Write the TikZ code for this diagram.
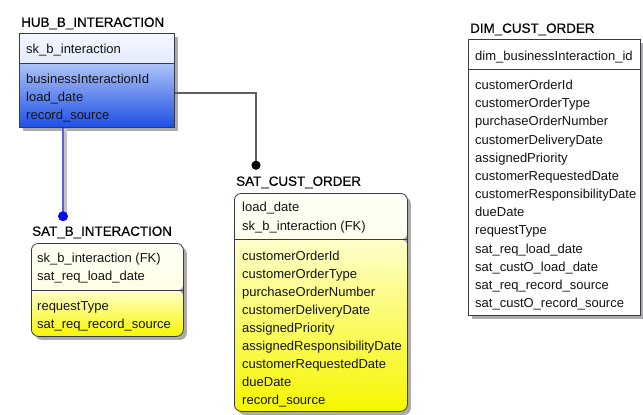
\documentclass[tikz,border=0pt]{standalone}
\usepackage{fontspec}
\setmainfont{Liberation Sans}
\newfontfamily\titlefont[FakeBold=0.6]{Liberation Sans}
\usetikzlibrary{shadows}

\definecolor{ink}{HTML}{141414}
\definecolor{edge}{HTML}{3A3A44}
\definecolor{shadowgray}{HTML}{ABABAB}
\definecolor{hubHeadTop}{HTML}{F4F7FF}
\definecolor{hubHeadBot}{HTML}{C2D2F6}
\definecolor{hubBodyTop}{HTML}{ADC3F7}
\definecolor{hubBodyBot}{HTML}{1E4FE4}
\definecolor{satHeadTop}{HTML}{FFFFF6}
\definecolor{satHeadBot}{HTML}{FFFFD6}
\definecolor{satBodyTop}{HTML}{FFFFCC}
\definecolor{satBodyBot}{HTML}{F6F600}
\definecolor{relgray}{HTML}{5E5E5E}
\definecolor{idline}{HTML}{5C5CE8}
\definecolor{iddot}{HTML}{0A0AFF}

% one line per field; #1 name prefix, #2 x, #3 centre of first line, #4 line step, #5 fields
\newcommand\fieldrows[5]{%
  \foreach \t [count=\i] in {#5}
    \node[field] (#1\i) at (#2,{#3+#4*(\i-1)+4.6}) {\t};}

\begin{document}
\begin{tikzpicture}[x=1pt,y=-1pt,
  tablebox/.style={draw=edge, line width=0.8pt, anchor=north west, inner sep=0pt,
    drop shadow={shadow xshift=3.5pt, shadow yshift=-3.5pt, fill=shadowgray, opacity=1}},
  twotone/.style n args={5}{path picture={
    \shade[top color=#2, bottom color=#3]
      (path picture bounding box.north west) rectangle ([yshift=-#1]path picture bounding box.north east);
    \shade[top color=#4, bottom color=#5]
      ([yshift=-#1]path picture bounding box.north west) rectangle (path picture bounding box.south east);}},
  divider/.style={draw=edge, line width=0.8pt},
  field/.style={anchor=base west, inner sep=0pt, text=ink, font=\fontsize{13}{15}\selectfont},
  tabletitle/.style={anchor=base west, inner sep=0pt, text=black, font=\titlefont\fontsize{13.4}{16}\selectfont},
  relation/.style={draw=relgray, line width=1.3pt},
  identifying/.style={draw=idline, line width=2pt},
]
\fill[white] (0,0) rectangle (643,415);
\useasboundingbox (0,0) rectangle (643,415);

% ---- HUB_B_INTERACTION ----
\node[tabletitle] (hubtitle) at (21,26.8) {HUB\_B\_INTERACTION};
\node[tablebox, minimum width=155pt, minimum height=94pt,
      twotone={30pt}{hubHeadTop}{hubHeadBot}{hubBodyTop}{hubBodyBot}] (hub) at (19,33) {};
\draw[divider] ([yshift=-30pt]hub.north west) -- ([yshift=-30pt]hub.north east);
\fieldrows{hubk}{26}{49}{18.3}{sk\_b\_interaction}
\fieldrows{hubf}{26}{78.5}{18.3}{businessInteractionId,load\_date,record\_source}

% ---- SAT_B_INTERACTION ----
\node[tabletitle] (sbititle) at (32,235.8) {SAT\_B\_INTERACTION};
\node[tablebox, rounded corners=7pt, minimum width=152pt, minimum height=93pt,
      twotone={47pt}{satHeadTop}{satHeadBot}{satBodyTop}{satBodyBot}] (sbi) at (31,243) {};
\draw[divider] ([yshift=-47pt]sbi.north west) -- ([yshift=-47pt]sbi.north east);
\fieldrows{sbik}{37}{258}{18}{sk\_b\_interaction (FK),sat\_req\_load\_date}
\fieldrows{sbif}{37}{306}{18}{requestType,sat\_req\_record\_source}

% ---- SAT_CUST_ORDER ----
\node[tabletitle] (scotitle) at (236,185.8) {SAT\_CUST\_ORDER};
\node[tablebox, rounded corners=7pt, minimum width=173pt, minimum height=218pt,
      twotone={46pt}{satHeadTop}{satHeadBot}{satBodyTop}{satBodyBot}] (sco) at (234,193) {};
\draw[divider] ([yshift=-46pt]sco.north west) -- ([yshift=-46pt]sco.north east);
\fieldrows{scok}{242}{207}{18.5}{load\_date,sk\_b\_interaction (FK)}
\fieldrows{scof}{242}{256}{18}{customerOrderId,customerOrderType,purchaseOrderNumber,
  customerDeliveryDate,assignedPriority,assignedResponsibilityDate,
  customerRequestedDate,dueDate,record\_source}

% ---- DIM_CUST_ORDER ----
\node[tabletitle] (dimtitle) at (470,32.8) {DIM\_CUST\_ORDER};
\node[tablebox, fill=white, minimum width=172pt, minimum height=276pt] (dim) at (468,39) {};
\draw[divider] ([yshift=-30pt]dim.north west) -- ([yshift=-30pt]dim.north east);
\fieldrows{dimk}{475}{55.5}{18}{dim\_businessInteraction\_id}
\fieldrows{dimf}{475}{85}{18.17}{customerOrderId,customerOrderType,purchaseOrderNumber,
  customerDeliveryDate,assignedPriority,customerRequestedDate,
  customerResponsibilityDate,dueDate,requestType,sat\_req\_load\_date,
  sat\_custO\_load\_date,sat\_req\_record\_source,sat\_custO\_record\_source}

% ---- relationships ----
\coordinate (hubport) at ([yshift=-60pt]hub.north east);
\coordinate (scojoin) at ([xshift=20pt,yshift=11pt]scotitle.north west);
\draw[relation] (hubport) -| (scojoin);
\fill[black] (scojoin) circle (4.6pt);

\coordinate (hubfoot) at ([xshift=44pt]hub.south west);
\coordinate (sbijoin) at ([xshift=31pt,yshift=10pt]sbititle.north west);
\draw[draw=shadowgray!70, line width=3.5pt] ([xshift=2.5pt,yshift=-1pt]hubfoot) -- ([xshift=2.5pt]sbijoin);
\draw[identifying] (hubfoot) -- (sbijoin);
\fill[iddot] (sbijoin) circle (5pt);
\end{tikzpicture}
\end{document}
